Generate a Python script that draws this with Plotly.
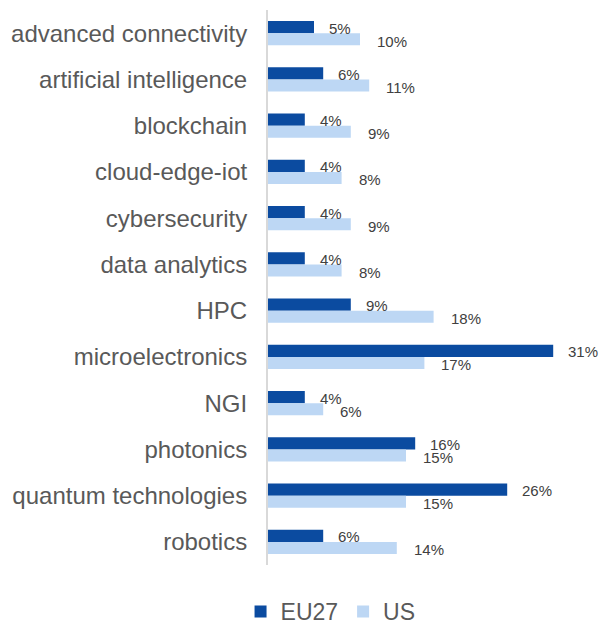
import plotly.graph_objects as go

categories = [
    "advanced connectivity", "artificial intelligence", "blockchain",
    "cloud-edge-iot", "cybersecurity", "data analytics", "HPC",
    "microelectronics", "NGI", "photonics", "quantum technologies", "robotics",
]
eu27 = [5, 6, 4, 4, 4, 4, 9, 31, 4, 16, 26, 6]
us = [10, 11, 9, 8, 9, 8, 18, 17, 6, 15, 15, 14]

EU_COLOR = "#0B4BA0"
US_COLOR = "#BDD7F4"
FONT = "Liberation Sans, Arial, sans-serif"

fig = go.Figure()
fig.add_trace(go.Bar(name="EU27", y=categories, x=eu27, orientation="h",
                     marker=dict(color=EU_COLOR, line=dict(width=0))))
fig.add_trace(go.Bar(name="US", y=categories, x=us, orientation="h",
                     marker=dict(color=US_COLOR, line=dict(width=0))))

# value labels just past the end of each bar
annotations = []
for cat, e, u in zip(categories, eu27, us):
    annotations.append(dict(x=e, y=cat, xref="x", yref="y", text=f"{e}%",
                            showarrow=False, xanchor="left", yanchor="middle",
                            xshift=13, yshift=5,
                            font=dict(family=FONT, size=15, color="#404040")))
    annotations.append(dict(x=u, y=cat, xref="x", yref="y", text=f"{u}%",
                            showarrow=False, xanchor="left", yanchor="middle",
                            xshift=15, yshift=-8,
                            font=dict(family=FONT, size=15, color="#404040")))

fig.update_layout(
    width=601, height=622,
    margin=dict(l=268, r=11, t=10, b=57, autoexpand=False),
    paper_bgcolor="white", plot_bgcolor="white",
    barmode="group", bargap=0.48, bargroupgap=0,
    font=dict(family=FONT, color="#595959"),
    annotations=annotations,
    legend=dict(orientation="h", xref="container", yref="container",
                x=0.55, xanchor="center", y=0.017, yanchor="middle",
                font=dict(family=FONT, size=23, color="#595959"),
                itemwidth=30, traceorder="normal"),
    showlegend=True,
)
fig.update_xaxes(range=[0, 35], showgrid=False, zeroline=False,
                 showticklabels=False, ticks="", showline=False)
fig.update_yaxes(autorange="reversed", showgrid=False, zeroline=False,
                 showline=True, linecolor="#D9D9D9", linewidth=2,
                 ticks="", ticklabelstandoff=14,
                 tickfont=dict(family=FONT, size=24, color="#595959"))

fig.write_html("out.html")
